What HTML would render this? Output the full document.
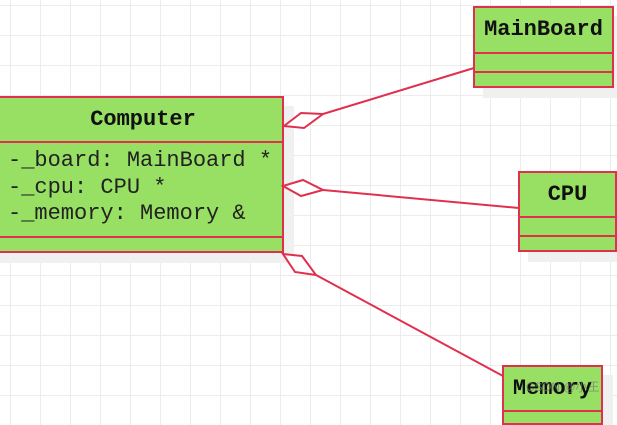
<!DOCTYPE html>
<html><head><style>
body{margin:0;width:617px;height:402px;overflow:hidden;background:#fff;
background-image:linear-gradient(#ececec 1px,transparent 1px),linear-gradient(90deg,#ececec 1px,transparent 1px);
background-size:30px 30px;background-position:10px 5px;position:relative;font-family:"Liberation Mono",monospace;}
.b{position:absolute;background:#98e063;border:2px solid #e0304e;box-sizing:border-box;box-shadow:10px 10px 0 #f0f0f0;}
.h{font-weight:bold;text-align:center;border-bottom:2px solid #e0304e;box-sizing:border-box;color:#111;}
.s{border-bottom:2px solid #e0304e;box-sizing:border-box;}
</style></head><body>
<div class="b" style="left:-10px;top:96px;width:294px;height:157px;">
 <div class="h" style="height:45px;line-height:43px;font-size:22px;padding-left:12px;">Computer</div>
 <div class="s" style="height:95px;padding:5px 0 0 16px;font-size:22px;line-height:26.5px;color:#222;white-space:nowrap;">-_board: MainBoard *<br>-_cpu: CPU *<br>-_memory: Memory &amp;</div>
</div>
<div class="b" style="left:473px;top:6px;width:141px;height:82px;">
 <div class="h" style="height:46px;line-height:44px;font-size:22px;">MainBoard</div>
 <div class="s" style="height:19px;"></div>
</div>
<div class="b" style="left:518px;top:171px;width:99px;height:81px;">
 <div class="h" style="height:45px;line-height:43px;font-size:22px;">CPU</div>
 <div class="s" style="height:19px;"></div>
</div>
<div class="b" style="left:502px;top:365px;width:101px;height:60px;">
 <div class="h" style="height:45px;line-height:43px;font-size:22px;">Memory</div>
</div>
<svg width="617" height="402" style="position:absolute;left:0;top:0" fill="none" stroke="#e0304e" stroke-width="2">
<polygon points="284,126 301,113 323,114 304,128" fill="#fff"/>
<line x1="323" y1="114" x2="474" y2="68"/>
<polygon points="283,186 303,180 323,190 301,196" fill="#fff"/>
<line x1="323" y1="190" x2="519" y2="208"/>
<polygon points="283,254 302,256 316,275 295,272" fill="#fff"/>
<line x1="316" y1="275" x2="503" y2="376"/>
</svg>
<div style="position:absolute;left:526px;top:378px;font-family:'Liberation Sans','Noto Sans CJK SC',sans-serif;font-size:12px;color:rgba(120,120,120,0.7);">CSDN @小王</div>
</body></html>
